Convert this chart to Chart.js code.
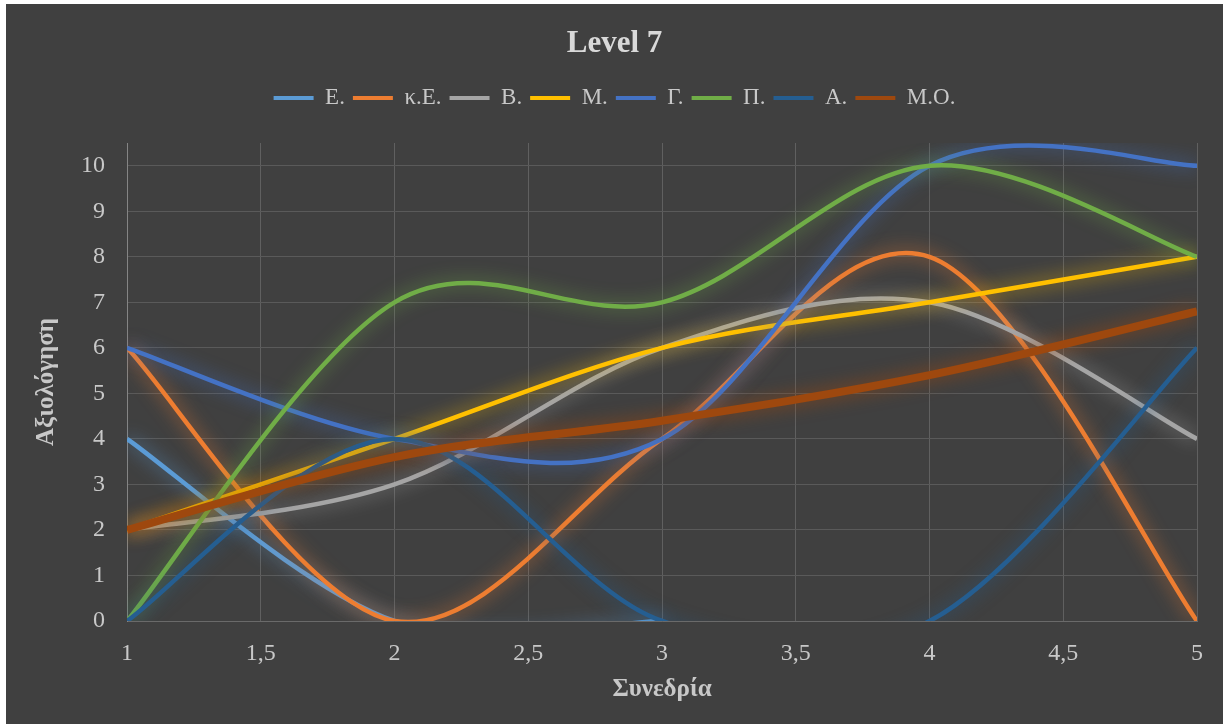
<!DOCTYPE html>
<html>
<head>
<meta charset="utf-8">
<title>Level 7</title>
<script src="https://cdn.jsdelivr.net/npm/chart.js@4.4.1/dist/chart.umd.min.js"></script>
<style>
  html, body { margin: 0; padding: 0; background: #ffffff; }
  #wrap { position: absolute; left: 0; top: 0; width: 1223px; height: 724px; }
</style>
</head>
<body>
<div id="wrap"><canvas id="chart" width="1223" height="724"></canvas></div>
<script>
// Sessions (x) and ratings per student (null = no rating for that session)
const sessions = [1, 2, 3, 4, 5];
const seriesNames = ['Ε.', 'κ.Ε.', 'Β.', 'Μ.', 'Γ.', 'Π.', 'Α.', 'Μ.Ο.'];
const valE   = [4, 0, 0, null, null];
const valKE  = [6, 0, 4, 8, 0];
const valB   = [2, 3, 6, 7, 4];
const valM   = [2, 4, 6, 7, 8];
const valG   = [6, 4, 4, 10, 10];
const valP   = [0, 7, 7, 10, 8];
const valA   = [0, 4, 0, 0, 6];
const valMO  = [2, 3.6, 4.4, 5.4, 6.8];
const yTicks = [0, 1, 2, 3, 4, 5, 6, 7, 8, 9, 10];

const seriesValues = [valE, valKE, valB, valM, valG, valP, valA, valMO];
const seriesColors = ['#5B9BD5', '#ED7D31', '#A5A5A5', '#FFC000', '#4472C4', '#70AD47', '#255E91', '#9E480E'];
const seriesWidths = [4.5, 4.5, 4.5, 4.5, 4.5, 4.5, 4.5, 8];

const FONT = "'Liberation Serif', 'Times New Roman', serif";
const TEXT = '#C8C8C8';

function rgba(hex, a) {
  const n = parseInt(hex.slice(1), 16);
  return `rgba(${(n >> 16) & 255},${(n >> 8) & 255},${n & 255},${a})`;
}

const datasets = seriesNames.map((name, i) => ({
  label: name,
  data: sessions.map((x, j) => ({ x: x, y: seriesValues[i][j] })),
  borderColor: seriesColors[i],
  backgroundColor: seriesColors[i],
  borderWidth: seriesWidths[i],
  pointRadius: 0,
  pointHoverRadius: 0,
  tension: 0.4,
  fill: false,
  spanGaps: false,
  order: seriesNames.length - i   // later series are painted on top
}));

// dark panel behind the chart
const panel = {
  id: 'panel',
  beforeDraw(chart) {
    const ctx = chart.ctx;
    ctx.save();
    ctx.fillStyle = '#404040';
    ctx.fillRect(6, 4, chart.width - 6, chart.height - 4);
    ctx.restore();
  }
};

// uniform Catmull-Rom smoothing (spreadsheet style) + soft coloured glow
const smoothGlow = {
  id: 'smoothGlow',
  beforeDatasetDraw(chart, args) {
    const meta = chart.getDatasetMeta(args.index);
    const line = meta.dataset;
    const pts = meta.data;
    if (line && pts.length > 1) {
      line.updateControlPoints(chart.chartArea, 'x');
      const n = pts.length;
      for (let i = 0; i < n; i++) {
        const p = pts[i];
        if (p.skip) continue;
        const prev = (i > 0 && !pts[i - 1].skip) ? pts[i - 1] : p;
        const next = (i < n - 1 && !pts[i + 1].skip) ? pts[i + 1] : p;
        const dx = (next.x - prev.x) / 6;
        const dy = (next.y - prev.y) / 6;
        p.cp1x = p.x - dx; p.cp1y = p.y - dy;
        p.cp2x = p.x + dx; p.cp2y = p.y + dy;
      }
      line._path = undefined;
    }
    const ctx = chart.ctx;
    const ds = chart.data.datasets[args.index];
    ctx.save();
    ctx.shadowColor = rgba(ds.borderColor, 0.85);
    ctx.shadowBlur = 18;
    ctx.shadowOffsetX = 0;
    ctx.shadowOffsetY = 0;
  },
  afterDatasetDraw(chart) {
    chart.ctx.restore();
  }
};

// leave room between the legend row and the plot area
const legendGap = {
  id: 'legendGap',
  beforeLayout(chart) {
    const lg = chart.legend;
    if (lg && !lg._gapWrapped) {
      const fit = lg.fit.bind(lg);
      lg.fit = function () { fit(); this.height = 64.4; };
      lg._gapWrapped = true;
    }
  }
};

new Chart(document.getElementById('chart'), {
  type: 'line',
  data: { datasets },
  plugins: [panel, smoothGlow, legendGap],
  options: {
    responsive: false,
    animation: false,
    layout: { padding: { left: 32, right: 26, top: 0, bottom: 0 } },
    plugins: {
      title: {
        display: true,
        text: 'Level 7',
        color: '#D9D9D9',
        font: { family: FONT, size: 31, weight: 'bold' },
        padding: { top: 25.4, bottom: 16 }
      },
      legend: {
        display: true,
        position: 'top',
        labels: {
          color: TEXT,
          font: { family: FONT, size: 23 },
          boxWidth: 40,
          boxHeight: 4,
          padding: 8,
          sort: (a, b) => a.datasetIndex - b.datasetIndex,
          generateLabels(chart) {
            return Chart.defaults.plugins.legend.labels.generateLabels(chart).map(l => {
              l.lineWidth = 0;
              l.fillStyle = chart.data.datasets[l.datasetIndex].borderColor;
              return l;
            });
          }
        }
      },
      tooltip: { enabled: false }
    },
    scales: {
      x: {
        type: 'linear',
        min: 1,
        max: 5,
        ticks: {
          stepSize: 0.5,
          color: TEXT,
          font: { family: FONT, size: 24 },
          padding: 18,
          maxRotation: 0,
          callback: v => String(v).replace('.', ',')
        },
        grid: { color: '#606060', lineWidth: 1, drawTicks: false },
        border: { color: '#6A6A6A', width: 1 },
        title: {
          display: true,
          text: 'Συνεδρία',
          color: TEXT,
          font: { family: FONT, size: 25, weight: 'bold' },
          padding: { top: 0, bottom: 19 }
        },
        afterFit(scale) { scale.height = 103; }
      },
      y: {
        type: 'linear',
        min: 0,
        max: 10.5,
        ticks: {
          stepSize: 1,
          color: TEXT,
          font: { family: FONT, size: 24 },
          padding: 22
        },
        afterBuildTicks(scale) {
          scale.ticks = yTicks.map(v => ({ value: v }));
        },
        grid: { color: '#5A5A5A', lineWidth: 1, drawTicks: false },
        border: { color: '#858585', width: 1 },
        title: {
          display: true,
          text: 'Αξιολόγηση',
          color: TEXT,
          font: { family: FONT, size: 25, weight: 'bold' },
          padding: { top: 0, bottom: 0 }
        },
        afterFit(scale) { scale.width = 95; }
      }
    }
  }
});
</script>
</body>
</html>
